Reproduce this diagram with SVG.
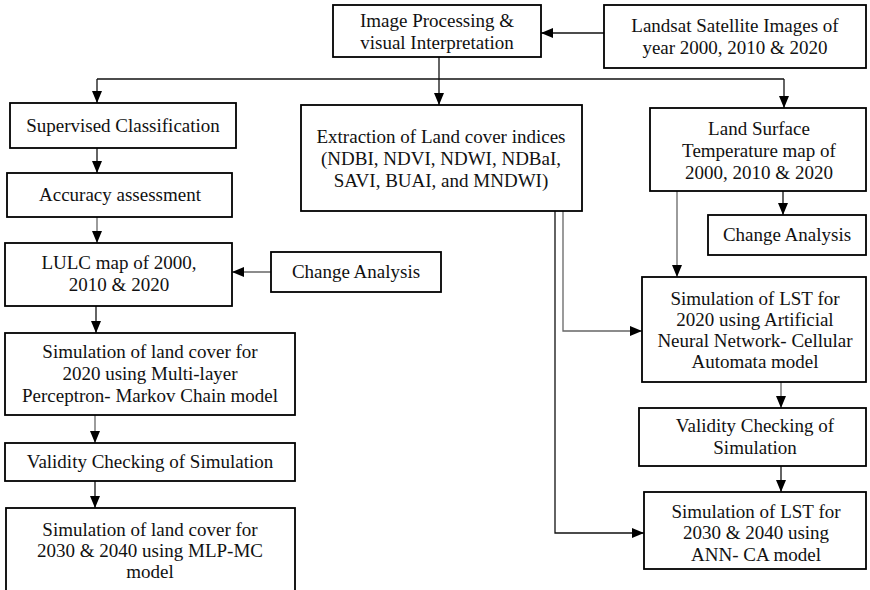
<svg xmlns="http://www.w3.org/2000/svg" width="870" height="590" viewBox="0 0 870 590">
  <style>
    .box { fill: #ffffff; stroke: #000000; stroke-width: 1.8; }
    .lbl { font-family: "Liberation Serif", "Times New Roman", serif; font-size: 19px; fill: #111111; text-anchor: middle; }
    .ln { fill: none; stroke: #111111; stroke-width: 1.3; }
    .lg { fill: none; stroke: #666666; stroke-width: 1.3; }
  </style>
  <defs>
    <marker id="ah" viewBox="0 0 12 10" refX="12" refY="5" markerWidth="12" markerHeight="10" markerUnits="userSpaceOnUse" orient="auto">
      <path d="M0,0 L12,5 L0,10 Z" fill="#000000"/>
    </marker>
  </defs>
  <rect width="870" height="590" fill="#ffffff"/>

  <!-- connectors -->
  <g id="connectors">
    <path class="ln" d="M604,33 L541,33" marker-end="url(#ah)"/>
    <path class="ln" d="M97,79 L784,79"/>
    <path class="ln" d="M97,79 L97,103" marker-end="url(#ah)"/>
    <path class="ln" d="M439,57 L439,105" marker-end="url(#ah)"/>
    <path class="ln" d="M784,79 L784,108" marker-end="url(#ah)"/>
    <path class="ln" d="M97,148 L97,173" marker-end="url(#ah)"/>
    <path class="lg" d="M97,217 L97,243" marker-end="url(#ah)"/>
    <path class="lg" d="M271,272 L232,272" marker-end="url(#ah)"/>
    <path class="ln" d="M96,306 L96,333" marker-end="url(#ah)"/>
    <path class="lg" d="M95,415 L95,443" marker-end="url(#ah)"/>
    <path class="ln" d="M95,481 L95,508" marker-end="url(#ah)"/>
    <path class="ln" d="M783,191 L783,215" marker-end="url(#ah)"/>
    <path class="lg" d="M677,191 L677,277" marker-end="url(#ah)"/>
    <path class="lg" d="M563,211 L563,331 L642,331" marker-end="url(#ah)"/>
    <path class="ln" d="M555,211 L555,533 L644,533" marker-end="url(#ah)"/>
    <path class="lg" d="M781,382 L781,408" marker-end="url(#ah)"/>
    <path class="ln" d="M781,466 L781,492" marker-end="url(#ah)"/>
  </g>

  <g id="image-processing">
    <rect class="box" x="333" y="5" width="208" height="52"/>
    <text class="lbl" x="437" y="27">Image Processing &amp;</text>
    <text class="lbl" x="437" y="49">visual Interpretation</text>
  </g>
  <g id="landsat">
    <rect class="box" x="604" y="5" width="262" height="63"/>
    <text class="lbl" x="735" y="32">Landsat Satellite Images of</text>
    <text class="lbl" x="735" y="54">year 2000, 2010 &amp; 2020</text>
  </g>

  <g id="supervised">
    <rect class="box" x="10" y="103" width="226" height="45"/>
    <text class="lbl" x="123" y="132">Supervised Classification</text>
  </g>
  <g id="accuracy">
    <rect class="box" x="7" y="173" width="225" height="44"/>
    <text class="lbl" x="120" y="201">Accuracy assessment</text>
  </g>
  <g id="lulc">
    <rect class="box" x="5" y="243" width="227" height="63"/>
    <text class="lbl" x="119" y="269">LULC map of 2000,</text>
    <text class="lbl" x="119" y="291">2010 &amp; 2020</text>
  </g>
  <g id="change-lulc">
    <rect class="box" x="271" y="252" width="170" height="40"/>
    <text class="lbl" x="356" y="278">Change Analysis</text>
  </g>
  <g id="sim-mlp">
    <rect class="box" x="5" y="333" width="290" height="82"/>
    <text class="lbl" x="150" y="358">Simulation of land cover for</text>
    <text class="lbl" x="150" y="380">2020 using Multi-layer</text>
    <text class="lbl" x="150" y="402">Perceptron- Markov Chain model</text>
  </g>
  <g id="validity-lulc">
    <rect class="box" x="5" y="443" width="290" height="38"/>
    <text class="lbl" x="150" y="468">Validity Checking of Simulation</text>
  </g>
  <g id="future-lulc">
    <rect class="box" x="6" y="508" width="289" height="90"/>
    <text class="lbl" x="150" y="536">Simulation of land cover for</text>
    <text class="lbl" x="150" y="557">2030 &amp; 2040 using MLP-MC</text>
    <text class="lbl" x="150" y="578">model</text>
  </g>

  <g id="indices">
    <rect class="box" x="301" y="105" width="281" height="106"/>
    <text class="lbl" x="441" y="143">Extraction of Land cover indices</text>
    <text class="lbl" x="441" y="165">(NDBI, NDVI, NDWI, NDBaI,</text>
    <text class="lbl" x="441" y="187">SAVI, BUAI, and MNDWI)</text>
  </g>

  <g id="lst">
    <rect class="box" x="650" y="108" width="216" height="83"/>
    <text class="lbl" x="759" y="135">Land Surface</text>
    <text class="lbl" x="759" y="157">Temperature map of</text>
    <text class="lbl" x="759" y="179">2000, 2010 &amp; 2020</text>
  </g>
  <g id="change-lst">
    <rect class="box" x="708" y="215" width="158" height="40"/>
    <text class="lbl" x="787" y="241">Change Analysis</text>
  </g>
  <g id="sim-ann">
    <rect class="box" x="642" y="277" width="224" height="105"/>
    <text class="lbl" x="755" y="305">Simulation of LST for</text>
    <text class="lbl" x="755" y="326">2020 using Artificial</text>
    <text class="lbl" x="755" y="347">Neural Network- Cellular</text>
    <text class="lbl" x="755" y="368">Automata model</text>
  </g>
  <g id="validity-lst">
    <rect class="box" x="639" y="408" width="227" height="58"/>
    <text class="lbl" x="755" y="432">Validity Checking of</text>
    <text class="lbl" x="755" y="454">Simulation</text>
  </g>
  <g id="future-lst">
    <rect class="box" x="644" y="492" width="222" height="77"/>
    <text class="lbl" x="756" y="518">Simulation of LST for</text>
    <text class="lbl" x="756" y="539">2030 &amp; 2040 using</text>
    <text class="lbl" x="756" y="561">ANN- CA model</text>
  </g>
</svg>
